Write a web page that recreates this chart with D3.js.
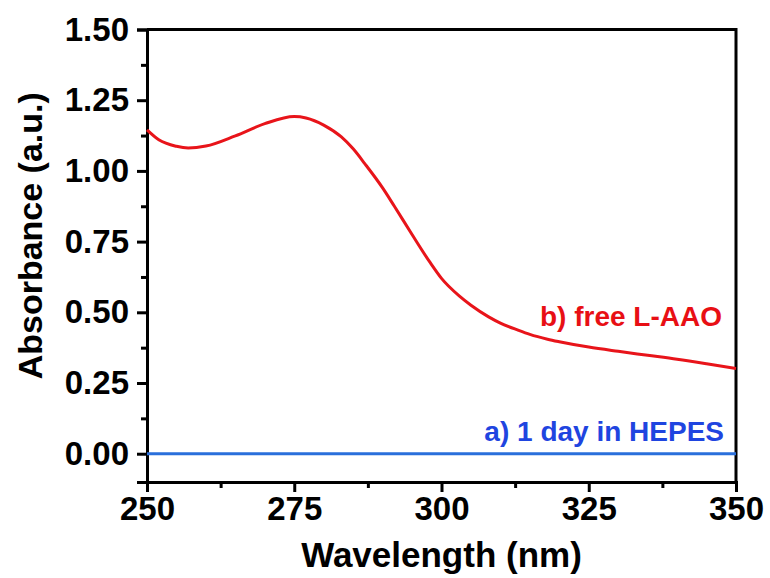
<!DOCTYPE html>
<html>
<head>
<meta charset="utf-8">
<script src="https://cdn.jsdelivr.net/npm/d3@7"></script>
<style>
	body{ margin:0; background:#fff; }
	text{ font-family:"Liberation Sans", Arial, sans-serif; font-weight:bold; }
</style>
</head>
<body>
<svg id="chart" width="770" height="578"></svg>
<script>
'use strict'

// spectra
var wavelength = [250, 252, 255, 257, 260, 265, 270, 275, 277, 280, 283, 285, 287, 290, 292, 295, 298, 300, 303, 305, 308, 310, 313, 315, 318, 320, 325, 330, 335, 340, 345, 350];
var freeLAAO = [1.145, 1.11, 1.087, 1.081, 1.088, 1.124, 1.167, 1.192, 1.187, 1.162, 1.12, 1.078, 1.025, 0.94, 0.875, 0.775, 0.678, 0.62, 0.558, 0.525, 0.484, 0.462, 0.437, 0.422, 0.405, 0.396, 0.377, 0.362, 0.348, 0.334, 0.318, 0.301];
var hepesX = [250, 350];
var hepesY = [0, 0];

var xTicks = [250, 275, 300, 325, 350];
var xMinor = [262.5, 287.5, 312.5, 337.5];
var yTicks = [0, 0.25, 0.5, 0.75, 1.0, 1.25, 1.5];
var yMinor = [0.125, 0.375, 0.625, 0.875, 1.125, 1.375];

var labels = ['b) free L-AAO', 'a) 1 day in HEPES'];

function draw(){
	var svg = d3.select('#chart');
	var left = 147, right = 736, top = 29.5, bottom = 482;

	var x = d3.scaleLinear().domain([250, 350]).range([left, right]);
	var y = d3.scaleLinear().domain([-0.1, 1.5]).range([bottom, top]);

	var line = d3.line()
		.x(function(d){ return x(d[0]); })
		.y(function(d){ return y(d[1]); })
		.curve(d3.curveMonotoneX);

	// frame top/right
	svg.append('path')
		.attr('d', `M${left},${top}H${right}V${bottom}`)
		.attr('fill', 'none')
		.attr('stroke', '#000')
		.attr('stroke-width', 3);

	var gx = svg.append('g').attr('transform', `translate(0,${bottom})`)
		.call(d3.axisBottom(x).tickValues(xTicks).tickSize(10).tickPadding(5).tickFormat(d3.format('d')));
	gx.append('g').call(d3.axisBottom(x).tickValues(xMinor).tickSize(6).tickFormat(''));

	var gy = svg.append('g').attr('transform', `translate(${left},0)`)
		.call(d3.axisLeft(y).tickValues(yTicks).tickSize(10).tickPadding(8).tickFormat(d3.format('.2f')));
	gy.append('g').call(d3.axisLeft(y).tickValues(yMinor).tickSize(6).tickFormat(''));

	svg.selectAll('.domain').attr('stroke-width', 3);
	svg.selectAll('.tick line').attr('stroke-width', 3);
	svg.selectAll('.domain').filter(function(){ return this.parentNode.parentNode.tagName === 'g'; }).remove();
	svg.selectAll('.tick text')
		.attr('font-size', 33)
		.attr('font-family', '"Liberation Sans", Arial, sans-serif')
		.attr('font-weight', 'bold')
		.attr('fill', '#000');

	svg.append('path')
		.datum(d3.zip(hepesX, hepesY))
		.attr('d', line)
		.attr('fill', 'none')
		.attr('stroke', '#2a6fdb')
		.attr('stroke-width', 3);

	svg.append('path')
		.datum(d3.zip(wavelength, freeLAAO))
		.attr('d', line)
		.attr('fill', 'none')
		.attr('stroke', '#e8141a')
		.attr('stroke-width', 3);

	svg.append('text')
		.attr('x', 722).attr('y', 326)
		.attr('text-anchor', 'end')
		.attr('font-size', 28)
		.attr('fill', '#e80f14')
		.text(labels[0]);

	svg.append('text')
		.attr('x', 724).attr('y', 441)
		.attr('text-anchor', 'end')
		.attr('font-size', 28)
		.attr('fill', '#1f45e0')
		.text(labels[1]);

	svg.append('text')
		.attr('x', (left + right) / 2).attr('y', 567)
		.attr('text-anchor', 'middle')
		.attr('font-size', 35)
		.text('Wavelength (nm)');

	svg.append('text')
		.attr('transform', `translate(42,${(top + bottom) / 2 - 20}) rotate(-90)`)
		.attr('text-anchor', 'middle')
		.attr('font-size', 34)
		.text('Absorbance (a.u.)');
}

draw();
</script>
</body>
</html>
